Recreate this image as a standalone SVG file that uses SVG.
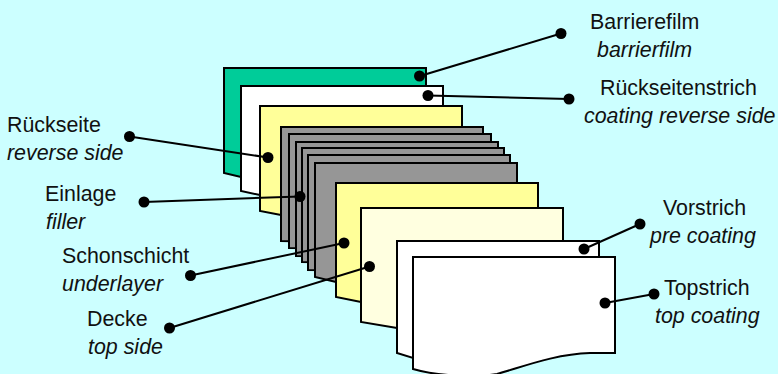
<svg xmlns="http://www.w3.org/2000/svg" width="778" height="374" viewBox="0 0 778 374">
<defs><style>
.s{stroke:#000;stroke-width:2;stroke-linejoin:miter}
.g{fill:#00cc99}.w{fill:#fff}.y{fill:#ffff99}.c{fill:#ffffe0}.k{fill:#969696}
.l{stroke:#000;stroke-width:2;fill:none}
.d{fill:#000}
text{font-family:"Liberation Sans",Arial,sans-serif;font-size:21.400px;fill:#111}
.i{font-style:italic}
</style></defs>
<rect width="778" height="374" fill="#ccffff"/>
<g id="sheet-barrierefilm"><path class="s g" d="M224 68H426V177H241L224 173Z"/></g>
<g id="sheet-rueckseitenstrich"><path class="s w" d="M241 86H443V195H260L241 191Z"/></g>
<g id="sheet-rueckseite"><path class="s y" d="M260 106H462V215H281L260 211Z"/></g>
<g id="sheet-filler">
<path class="s k" d="M281 127H483V245L281 241Z"/>
<path class="s k" d="M289 134H491V250L289 248Z"/>
<path class="s k" d="M296 142H498V258L296 256Z"/>
<path class="s k" d="M302 148H504V265L302 262Z"/>
<path class="s k" d="M308 155H510V272L308 270Z"/>
<path class="s k" d="M315 163H517V285L336 282L315 277Z"/>
</g>
<g id="sheet-schonschicht"><path class="s y" d="M336 183H538V302H361L336 297Z"/></g>
<g id="sheet-decke"><path class="s c" d="M361 208H563V328H397L361 322Z"/></g>
<g id="sheet-vorstrich"><path class="s w" d="M397 241H599V345H413V358L397 353Z"/></g>
<g id="sheet-topstrich"><path class="s w" d="M413 257H615V353H590C555 354 522 367 497 374C480 377 440 377 413 369Z"/></g>
<g id="connectors">
<path class="l" d="M420 76L561 33.500"/><circle class="d" cx="419.500" cy="76" r="5.500"/><circle class="d" cx="561" cy="33.500" r="5.500"/>
<path class="l" d="M428 95.500L569 99"/><circle class="d" cx="428" cy="95.500" r="5.500"/><circle class="d" cx="569" cy="99" r="5.500"/>
<path class="l" d="M268 157.500L129.500 136.500"/><circle class="d" cx="268" cy="157.500" r="5.500"/><circle class="d" cx="129.500" cy="136.500" r="5.500"/>
<path class="l" d="M300 196.500L144 202"/><circle class="d" cx="300" cy="196.500" r="5.500"/><circle class="d" cx="144" cy="202" r="5.500"/>
<path class="l" d="M344 243L190.500 275.500"/><circle class="d" cx="344" cy="243" r="5.500"/><circle class="d" cx="190.500" cy="275.500" r="5.500"/>
<path class="l" d="M369.500 266.500L169.500 328"/><circle class="d" cx="369.500" cy="266.500" r="5.500"/><circle class="d" cx="169.500" cy="328" r="5.500"/>
<path class="l" d="M584 249L640 224"/><circle class="d" cx="584" cy="249" r="5.500"/><circle class="d" cx="640" cy="224" r="5.500"/>
<path class="l" d="M605 303L654 294"/><circle class="d" cx="605" cy="303" r="5.500"/><circle class="d" cx="654" cy="294" r="5.500"/>
</g>
<g id="labels">
<text x="590" y="29">Barrierefilm</text><text class="i" x="597" y="57">barrierfilm</text>
<text x="600" y="95">Rückseitenstrich</text><text class="i" x="584" y="123">coating reverse side</text>
<text x="7" y="132">Rückseite</text><text class="i" x="7" y="160">reverse side</text>
<text x="45" y="201">Einlage</text><text class="i" x="46" y="229">filler</text>
<text x="62" y="263">Schonschicht</text><text class="i" x="62" y="291">underlayer</text>
<text x="87" y="326">Decke</text><text class="i" x="88" y="354">top side</text>
<text x="663" y="215">Vorstrich</text><text class="i" x="650" y="243">pre coating</text>
<text x="664" y="295">Topstrich</text><text class="i" x="655" y="323">top coating</text>
</g>
</svg>
